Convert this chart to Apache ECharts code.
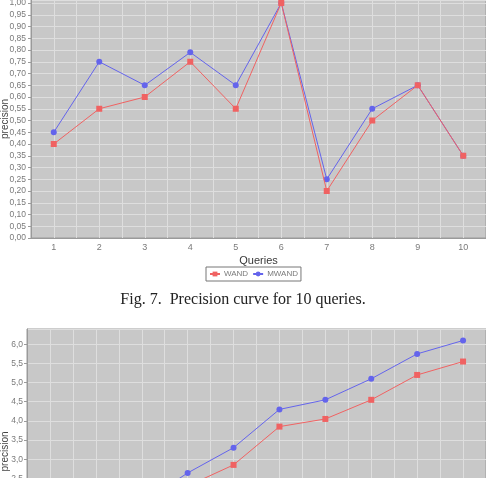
<!DOCTYPE html>
<html>
<head>
<meta charset="utf-8">
<script src="https://cdn.jsdelivr.net/npm/echarts@6/dist/echarts.min.js"></script>
<style>
  html, body { margin: 0; padding: 0; background: #fff; }
  #main { width: 486px; height: 478px; }
</style>
</head>
<body>
<div id="main"></div>
<script>
// queries 1..10
var queries = ['1', '2', '3', '4', '5', '6', '7', '8', '9', '10'];

// Fig. 7 - precision per query
var wandPrecision  = [0.40, 0.55, 0.60, 0.75, 0.55, 1.00, 0.20, 0.50, 0.65, 0.35];
var mwandPrecision = [0.45, 0.75, 0.65, 0.79, 0.65, 1.00, 0.25, 0.55, 0.65, 0.35];

// lower chart (cut off at the bottom of the picture)
var wandLower  = [0.40, 0.95, 1.55, 2.30, 2.85, 3.85, 4.05, 4.55, 5.20, 5.55];
var mwandLower = [0.45, 1.20, 1.85, 2.64, 3.30, 4.30, 4.55, 5.10, 5.75, 6.10];

var caption = 'Fig. 7.  Precision curve for 10 queries.';

var RED = '#f06262';
var BLUE = '#6464ec';
var PLOT_BG = '#c8c8c8';
var GRID_LINE = '#dedede';
var AXIS = '#9a9a9a';
var LABEL = '#7a7a7a';
var SANS = 'Liberation Sans';

var chart = echarts.init(document.getElementById('main'));

function catAxis(gridIndex, withName) {
    return {
        type: 'category',
        gridIndex: gridIndex,
        data: queries,
        boundaryGap: true,
        name: withName ? 'Queries' : '',
        nameLocation: 'middle',
        nameGap: 17,
        nameMoveOverlap: false,
        nameTextStyle: { fontSize: 11, color: '#383838', fontFamily: SANS, verticalAlign: 'top' },
        axisLine: { lineStyle: { color: AXIS } },
        axisTick: { length: 3, lineStyle: { color: AXIS } },
        axisLabel: { fontSize: 9, color: LABEL, margin: 5, fontFamily: SANS },
        splitLine: { show: false }
    };
}

// hidden axis only for the vertical grid lines (band centres and edges)
function gridXAxis(gridIndex) {
    return {
        type: 'value',
        gridIndex: gridIndex,
        min: 0.5,
        max: 10.5,
        interval: 0.5,
        axisLine: { show: false },
        axisTick: { show: false },
        axisLabel: { show: false },
        splitLine: { show: true, lineStyle: { color: GRID_LINE, width: 1 } }
    };
}

function valAxis(gridIndex, max, interval, digits, margin, gap) {
    return {
        type: 'value',
        gridIndex: gridIndex,
        min: 0,
        max: max,
        interval: interval,
        name: 'precision',
        nameLocation: 'middle',
        nameRotate: 90,
        nameGap: gap,
        nameMoveOverlap: false,
        nameTextStyle: { fontSize: 10, color: '#444', fontFamily: SANS },
        axisLine: { show: true, lineStyle: { color: AXIS } },
        axisTick: { show: true, length: 3, lineStyle: { color: AXIS } },
        axisLabel: {
            fontSize: 8.5,
            color: LABEL,
            margin: margin,
            fontFamily: SANS,
            showMaxLabel: false,
            formatter: function (v) {
                if (Math.abs(v / interval - Math.round(v / interval)) > 1e-6) return '';
                return v.toFixed(digits).replace('.', ',');
            }
        },
        splitLine: { show: true, lineStyle: { color: GRID_LINE, width: 1 } }
    };
}

function line(name, data, xi, yi, color, symbol, size, z) {
    return {
        name: name,
        type: 'line',
        xAxisIndex: xi,
        yAxisIndex: yi,
        data: data,
        symbol: symbol,
        symbolSize: size,
        z: z,
        itemStyle: { color: color },
        lineStyle: { color: color, width: 1 },
        emphasis: { disabled: true },
        animation: false
    };
}

var option = {
    backgroundColor: '#ffffff',
    animation: false,
    grid: [
        { left: 31, top: 0, width: 455, height: 238, containLabel: false, outerBoundsMode: 'none',
          show: true, backgroundColor: PLOT_BG, borderColor: AXIS, borderWidth: 1 },
        { left: 27, top: 329, width: 459, height: 245, containLabel: false, outerBoundsMode: 'none',
          show: true, backgroundColor: PLOT_BG, borderColor: AXIS, borderWidth: 1 }
    ],
    xAxis: [catAxis(0, true), gridXAxis(0), catAxis(1, false), gridXAxis(1)],
    yAxis: [valAxis(0, 1.0128, 0.05, 2, 5, 21), valAxis(1, 6.4, 0.5, 1, 4, 17)],
    legend: {
        data: ['WAND', 'MWAND'],
        left: 206,
        top: 267,
        padding: [3, 3],
        itemGap: 4,
        itemWidth: 10,
        itemHeight: 6,
        borderColor: '#777',
        borderWidth: 1,
        borderRadius: 0,
        textStyle: { fontSize: 8, color: LABEL, fontFamily: SANS, padding: [0, 0, 0, -1] }
    },
    graphic: [{
        type: 'text',
        left: 'center',
        top: 292,
        style: {
            text: caption,
            font: '16px "Liberation Serif"',
            fill: '#222'
        }
    }],
    series: [
        line('WAND', wandPrecision, 0, 0, RED, 'rect', 6, 4),
        line('MWAND', mwandPrecision, 0, 0, BLUE, 'circle', 6, 3),
        line('WAND', wandLower, 2, 1, RED, 'rect', 6, 4),
        line('MWAND', mwandLower, 2, 1, BLUE, 'circle', 6, 3)
    ]
};

chart.setOption(option);
</script>
</body>
</html>
